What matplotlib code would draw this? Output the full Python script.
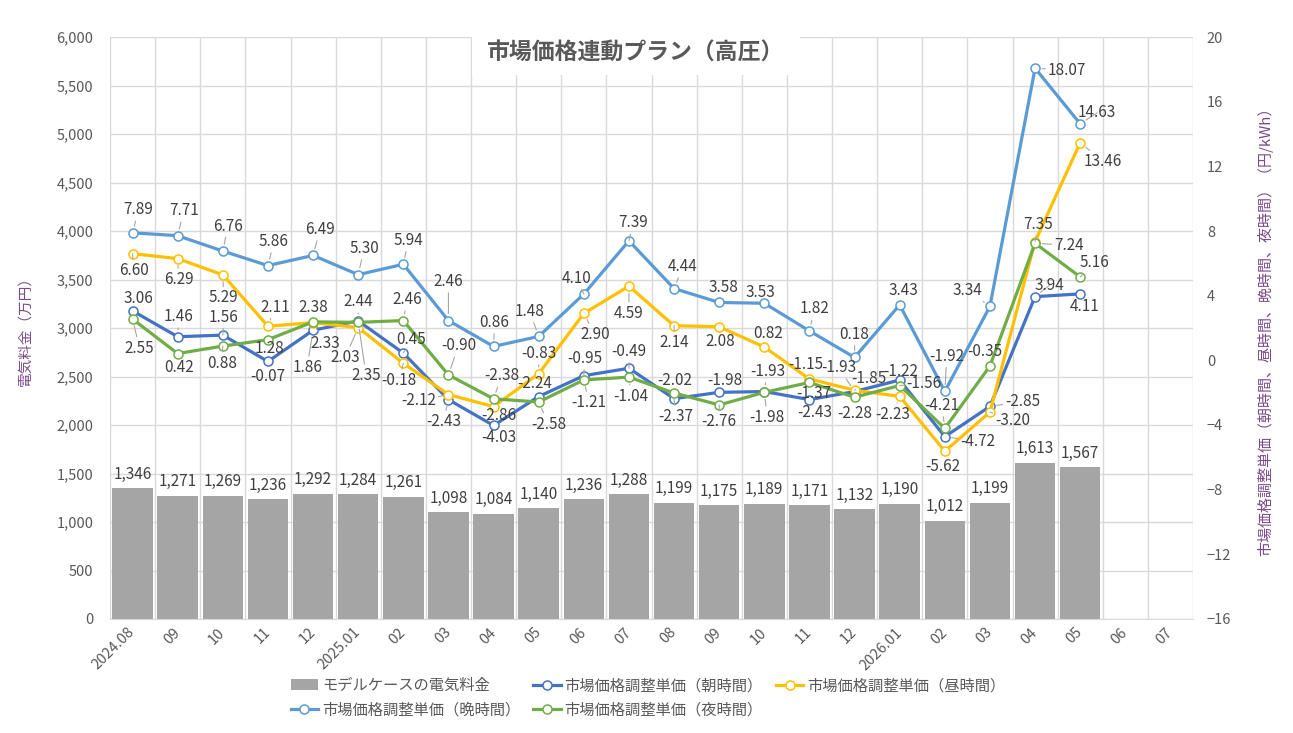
import matplotlib
matplotlib.use('Agg')
import matplotlib.pyplot as plt
from matplotlib.patches import Patch, Rectangle
from matplotlib.lines import Line2D
from matplotlib.ticker import FuncFormatter

plt.rcParams['font.family'] = ['Noto Sans CJK JP', 'DejaVu Sans']

# ---------------- data ----------------
months = ['2024.08', '09', '10', '11', '12', '2025.01', '02', '03', '04', '05', '06', '07',
          '08', '09', '10', '11', '12', '2026.01', '02', '03', '04', '05', '06', '07']
cost = [1346, 1271, 1269, 1236, 1292, 1284, 1261, 1098, 1084, 1140, 1236, 1288,
        1199, 1175, 1189, 1171, 1132, 1190, 1012, 1199, 1613, 1567]
morning = [3.06, 1.46, 1.56, -0.07, 1.86, 2.44, 0.45, -2.43, -4.03, -2.24, -0.95, -0.49,
           -2.37, -1.98, -1.93, -2.43, -1.93, -1.22, -4.72, -2.85, 3.94, 4.11]
daytime = [6.60, 6.29, 5.29, 2.11, 2.33, 2.03, -0.18, -2.12, -2.86, -0.83, 2.90, 4.59,
           2.14, 2.08, 0.82, -1.15, -1.85, -2.23, -5.62, -3.20, 7.35, 13.46]
evening = [7.89, 7.71, 6.76, 5.86, 6.49, 5.30, 5.94, 2.46, 0.86, 1.48, 4.10, 7.39,
           4.44, 3.58, 3.53, 1.82, 0.18, 3.43, -1.92, 3.34, 18.07, 14.63]
night = [2.55, 0.42, 0.88, 1.28, 2.38, 2.35, 2.46, -0.90, -2.38, -2.58, -1.21, -1.04,
         -2.02, -2.76, -1.98, -1.37, -2.28, -1.56, -4.21, -0.35, 7.24, 5.16]

bar_label = 'モデルケースの電気料金'
series_labels = ['市場価格調整単価（朝時間）', '市場価格調整単価（昼時間）',
                 '市場価格調整単価（晩時間）', '市場価格調整単価（夜時間）']

# ---------------- label placement (pixel offsets, +y = up) ----------------
off_morning = [(6, 12), (1, 20), (1, 18), (0, -15), (-6, -37), (0, 19), (8, 14), (-5, -22),
               (5, -12), (-4, 13), (1, 17), (0, 17), (2, -18), (6, 12), (3, 20), (5, -13),
               (-16, 24), (1, 9), (33, -5), (33, 5), (14, 11), (4, -13)]
off_day = [(1, -17), (1, -21), (1, -23), (7, 19), (12, -21), (-13, -30), (-4, -17), (-30, -6),
           (5, -9), (0, 20), (11, -21), (0, -27), (0, -17), (1, -15), (4, 14), (-4, 14),
           (14, 12), (-7, -18), (-2, -15), (23, -8), (3, 17), (23, -19)]
off_eve = [(6, 23), (6, 25), (5, 25), (6, 24), (7, 26), (6, 26), (5, 24), (0, 39),
           (1, 24), (-9, 25), (-7, 16), (4, 18), (9, 22), (4, 15), (-4, 11), (5, 22),
           (0, 23), (4, 14), (2, 35), (-23, 16), (32, -2), (17, 11)]
off_night = [(7, -29), (1, -14), (-1, -17), (2, -9), (0, 14), (8, -53), (4, 21), (10, 29),
             (8, 23), (10, -22), (5, -23), (2, -19), (1, 12), (0, -17), (3, -25), (4, -11),
             (0, -16), (24, 2), (-3, 23), (-5, 14), (34, -2), (14, 14)]

colors = ['#4472C4', '#FFC000', '#5B9BD5', '#70AD47']
bar_color = '#A5A5A5'
grid_color = '#D9D9D9'
tick_color = '#595959'
label_color = '#404040'
axis_title_color = '#7A4A8A'

W, H = 1293, 733
fig = plt.figure(figsize=(W / 100, H / 100), dpi=100)
ax_l, ax_r, ax_t, ax_b = 110, 1193, 37, 619
ax = fig.add_axes([ax_l / W, 1 - ax_b / H, (ax_r - ax_l) / W, (ax_b - ax_t) / H])

x = list(range(len(months)))
xd = list(range(len(cost)))

ax.bar(xd, cost, width=0.9, color=bar_color, zorder=2)
ax.set_xlim(-0.5, len(months) - 0.5)
ax.set_ylim(0, 6000)
ax.set_yticks(range(0, 6001, 500))
ax.yaxis.set_major_formatter(FuncFormatter(lambda v, p: f'{int(v):,}'))
ax.set_xticks(x)
ax.set_xticklabels(months, rotation=45, ha='right', va='center', rotation_mode='anchor')
ax.set_xticks([i - 0.5 for i in range(len(months) + 1)], minor=True)
ax.grid(axis='y', which='major', color=grid_color, lw=1, zorder=0)
ax.grid(axis='x', which='minor', color=grid_color, lw=1, zorder=0)
ax.set_axisbelow(True)
ax.tick_params(axis='both', which='both', length=0, colors=tick_color, labelsize=10.5)
ax.tick_params(axis='y', pad=12)
ax.tick_params(axis='x', pad=8)
for s in ['top', 'left', 'right']:
    ax.spines[s].set_visible(False)
ax.spines['bottom'].set_color(grid_color)

for i, v in zip(xd, cost):
    ax.annotate(f'{v:,}', xy=(i, v), xytext=(0, 14), textcoords='offset pixels',
                ha='center', va='center', fontsize=11, color=label_color, zorder=3)

ax.set_ylabel('電気料金（万円）', color=axis_title_color, fontsize=10.5)
ax.yaxis.set_label_coords((32 - ax_l) / (ax_r - ax_l), 0.5)

ax2 = ax.twinx()
ax2.set_ylim(-16, 20)
ax2.set_yticks(range(-16, 21, 4))
ax2.tick_params(axis='y', length=0, colors=tick_color, labelsize=10.5, pad=10)
for s in ax2.spines.values():
    s.set_visible(False)
ax2.set_ylabel('市場価格調整単価（朝時間、昼時間、晩時間、夜時間）（円/kWh）',
               color=axis_title_color, fontsize=10.8, rotation=90)
ax2.yaxis.set_label_coords((1257 - ax_l) / (ax_r - ax_l), 0.5)

all_series = [morning, daytime, evening, night]
all_offs = [off_morning, off_day, off_eve, off_night]
for vals, col, offs in zip(all_series, colors, all_offs):
    ax2.plot(xd, vals, color=col, lw=2.3, marker='o', ms=6.5, mfc='white',
             mec=col, mew=1.1, zorder=3, solid_joinstyle='round')
for vals, col, offs in zip(all_series, colors, all_offs):
    for i, (v, (dx, dy)) in enumerate(zip(vals, offs)):
        dist = (dx * dx + dy * dy) ** 0.5
        kw = {}
        if dist > 16:
            kw['arrowprops'] = dict(arrowstyle='-', color='#A6A6A6', lw=0.8,
                                    shrinkA=0, shrinkB=5)
        ax2.annotate(f'{v:.2f}', xy=(i, v), xytext=(dx, dy), textcoords='offset pixels',
                     ha='center', va='center', fontsize=11, color=label_color,
                     zorder=5, **kw)

# title with white backing
fig.patches.append(Rectangle((472 / W, 1 - 75 / H), 328 / W, 38 / H,
                             transform=fig.transFigure, facecolor='white',
                             edgecolor='none', zorder=2))
fig.text(635 / W, 1 - 53 / H, '市場価格連動プラン（高圧）', ha='center', va='center',
         fontsize=16.5, fontweight='bold', color=tick_color, zorder=3)

# legend (column-major fill to get row order)
h_bar = Patch(facecolor=bar_color, edgecolor='none')
h_lines = [Line2D([0], [0], color=c, lw=2.3, marker='o', ms=6.5, mfc='white', mec=c, mew=1.1)
           for c in colors]
handles = [h_bar, h_lines[2], h_lines[0], h_lines[3], h_lines[1]]
labels = [bar_label, series_labels[2], series_labels[0], series_labels[3], series_labels[1]]
leg = fig.legend(handles, labels, ncol=3, loc='center', bbox_to_anchor=(648 / W, 1 - 698 / H),
                 frameon=False, fontsize=11, handlelength=1.8, handletextpad=0.25,
                 columnspacing=0.85, labelspacing=0.5)
for t in leg.get_texts():
    t.set_color(tick_color)

fig.savefig('out.png', dpi=100, facecolor='white')
